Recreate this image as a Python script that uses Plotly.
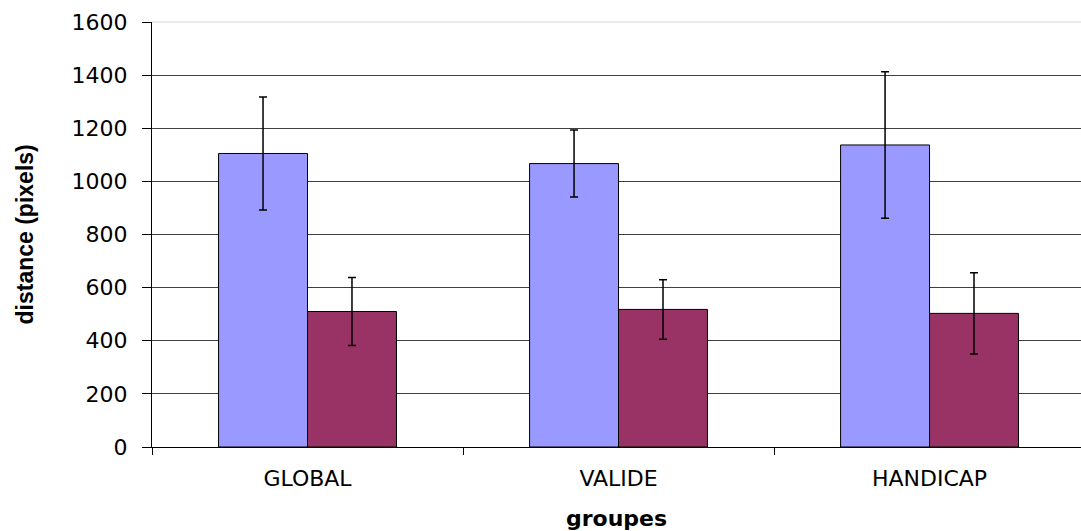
import plotly.graph_objects as go

categories = ["GLOBAL", "VALIDE", "HANDICAP"]
series1_values = [1105, 1067, 1137]
series1_errors = [213, 126, 276]
series2_values = [510, 518, 503]
series2_errors = [128, 112, 153]
y_ticks = [0, 200, 400, 600, 800, 1000, 1200, 1400, 1600]

W, H = 1081, 531
ML, MR, MT, MB = 152, 0, 22, 84

fig = go.Figure()
fig.add_trace(go.Bar(
    x=categories, y=series1_values, name="s1",
    marker=dict(color="#9999FF", line=dict(color="#000000", width=1)),
    error_y=dict(type="data", array=series1_errors, visible=True,
                 color="#000000", thickness=1.5, width=4),
))
fig.add_trace(go.Bar(
    x=categories, y=series2_values, name="s2",
    marker=dict(color="#993366", line=dict(color="#000000", width=1)),
    error_y=dict(type="data", array=series2_errors, visible=True,
                 color="#000000", thickness=1.5, width=4),
))

font_wide = "DejaVu Sans, Verdana, sans-serif"
font_main = "Liberation Sans, Arial, sans-serif"

fig.update_layout(
    width=W, height=H,
    margin=dict(l=ML, r=MR, t=MT, b=MB, pad=0),
    paper_bgcolor="white", plot_bgcolor="white",
    barmode="group", bargap=0.428, bargroupgap=0,
    showlegend=False,
    font=dict(family=font_wide, color="#000000"),
    xaxis=dict(
        type="category",
        range=[-0.5, 2.487],
        showline=True, linecolor="#000000", linewidth=1,
        ticks="outside", tickson="boundaries", ticklen=7, tickcolor="#000000",
        showgrid=False,
        tickfont=dict(size=22, family=font_wide, color="#000000"),
        ticklabelstandoff=12,
    ),
    yaxis=dict(
        range=[0, 1600],
        tickvals=y_ticks,
        showline=True, linecolor="#000000", linewidth=1,
        ticks="outside", ticklen=9, tickcolor="#000000",
        showgrid=True, gridcolor="#404040", gridwidth=1,
        zeroline=False,
        tickfont=dict(size=22, family=font_wide, color="#000000"),
        ticklabelstandoff=10,
    ),
    shapes=[dict(type="line", xref="paper", yref="paper", x0=0, x1=1, y0=1, y1=1,
                 line=dict(color="#e4e4e4", width=1.5), layer="above")],
    annotations=[
        dict(text="<b>distance (pixels)</b>", xref="paper", yref="paper",
             x=0, y=0.5, xshift=-128, textangle=-90, showarrow=False,
             xanchor="center", yanchor="middle",
             font=dict(size=23, family=font_main, color="#000000")),
        dict(text="<b>groupes</b>", xref="paper", yref="paper",
             x=0.5, y=0, yshift=-71, showarrow=False,
             xanchor="center", yanchor="middle",
             font=dict(size=22, family=font_wide, color="#000000")),
    ],
)

fig.write_html("out.html", config={"displayModeBar": False},
               post_script="document.body.style.margin='0';document.body.style.padding='0';")
